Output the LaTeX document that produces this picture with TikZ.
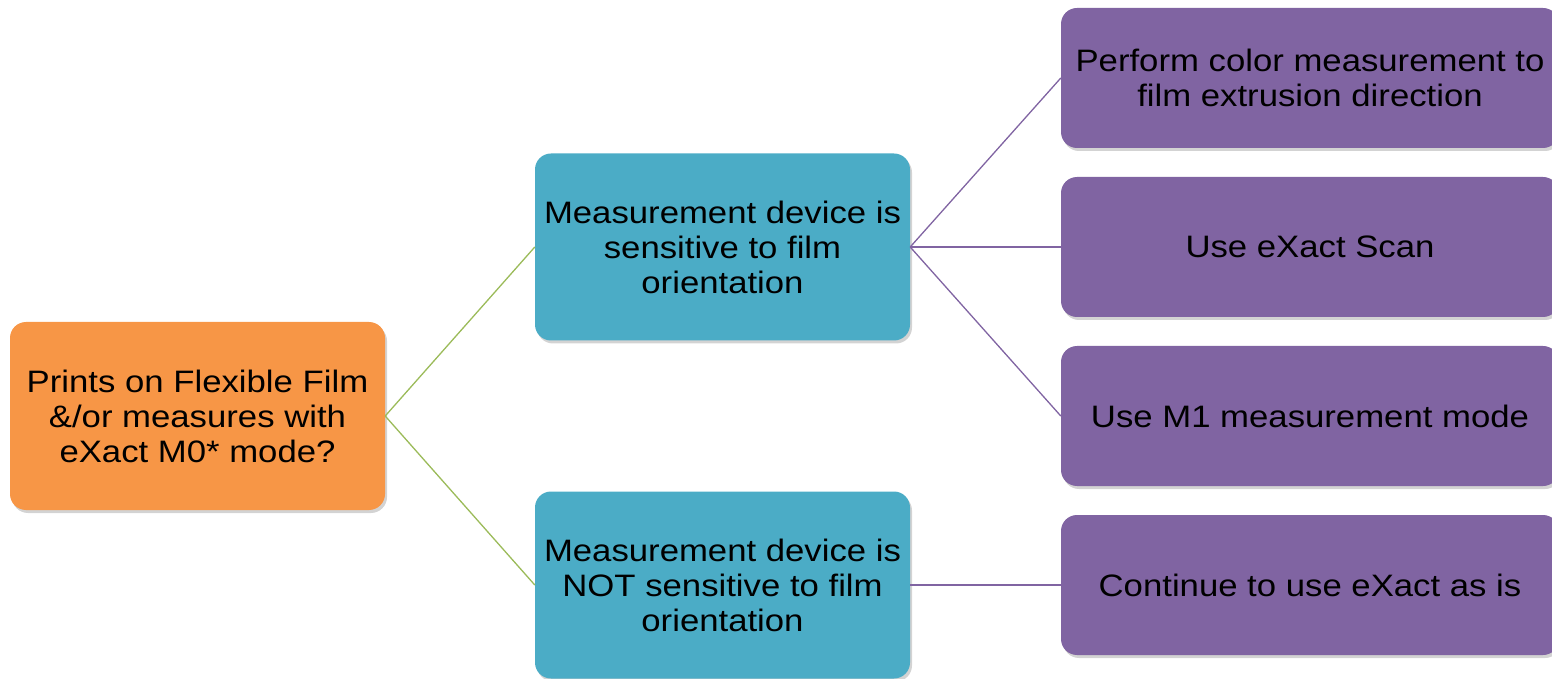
\documentclass[tikz,border=0pt]{standalone}
\usepackage{fontspec}
\setmainfont{Liberation Sans}[FakeStretch=1.12]
\usepackage{tikz}
\usetikzlibrary{shadows}
\definecolor{orangebox}{HTML}{F79646}
\definecolor{tealbox}{HTML}{4BACC6}
\definecolor{purplebox}{HTML}{8064A2}
\definecolor{greenline}{HTML}{9BBB59}

\begin{document}
\begin{tikzpicture}[x=1pt, y=1pt, grow' = right,
	level 1/.style={level distance=525pt, sibling distance=338pt, edge from parent/.style={draw, greenline, line width=1.3pt}},
	level 2/.style={level distance=587.5pt, sibling distance=169pt, edge from parent/.style={draw, purplebox, line width=1.3pt}},
	edge from parent path={(\tikzparentnode.east) -- (\tikzchildnode.west)},
	box/.style = {rounded corners=16pt, align=center, inner sep=0pt, font=\fontsize{31}{35}\selectfont, drop shadow={shadow xshift=2pt, shadow yshift=-3pt, opacity=0.35}},
	question/.style = {box, fill=orangebox, minimum width=375pt, minimum height=188pt},
	device/.style = {box, fill=tealbox, minimum width=375pt, minimum height=187pt},
	action/.style = {box, fill=purplebox, minimum width=498pt, minimum height=140pt}]
				\useasboundingbox (0,0) rectangle (1552,678);
				\node[question] (prints) at (197.5,262) {Prints on Flexible Film\\\&/or measures with\\eXact M0* mode?}
				child { node[device] (sensitive) {Measurement device is\\sensitive to film\\orientation}
					child { node[action] (perform) {Perform color measurement to\\film extrusion direction}}
					child { node[action] (scan) {Use eXact Scan}}
					child { node[action] (mone) {Use M1 measurement mode}}}
				child { node[device] (notsensitive) {Measurement device is\\NOT sensitive to film\\orientation}
					child { node[action] (continue) {Continue to use eXact as is}}};
				
\end{tikzpicture}
\end{document}
